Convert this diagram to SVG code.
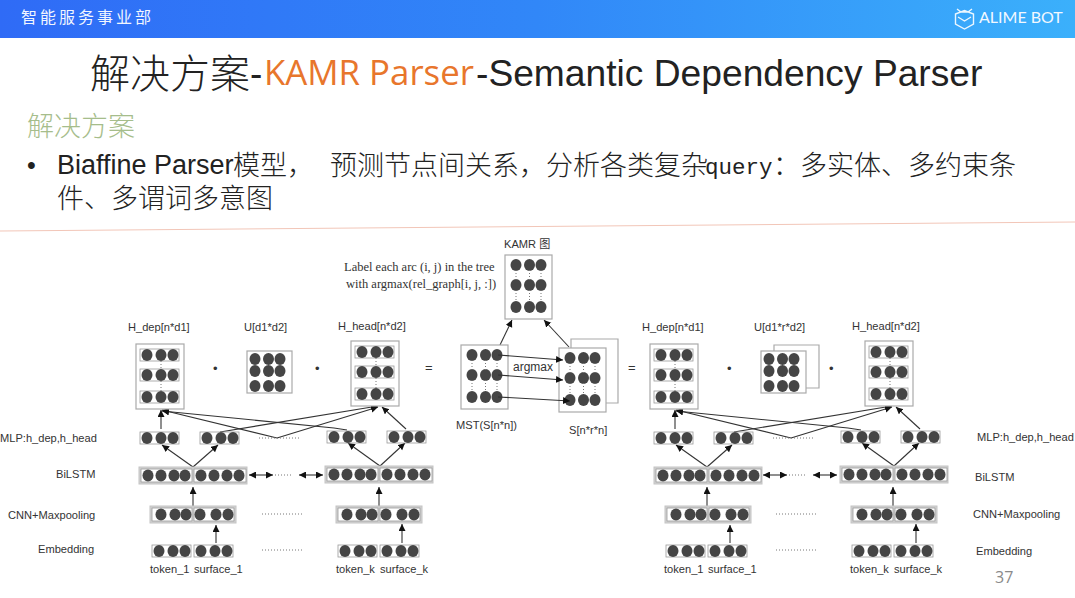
<svg xmlns="http://www.w3.org/2000/svg" xmlns:xlink="http://www.w3.org/1999/xlink" width="1075" height="598" viewBox="0 0 1075 598">
<style>
text{font-family:"Liberation Sans",Arial,sans-serif}
.cjk{font-family:"Noto Sans CJK SC",sans-serif}
.lb{font-size:11.100px;fill:#333}
.box{fill:#fff;stroke:#aaa;stroke-width:1.200}
.ol{fill:none;stroke:#aaa;stroke-width:1.200}
.gray{fill:#d2d2d2;stroke:#c4c4c4;stroke-width:1}
.in{fill:#fff;stroke:#999;stroke-width:.8}
.dot{fill:#454545}
.ar{fill:none;stroke:#333;stroke-width:1.100;marker-end:url(#a)}
.arb{fill:none;stroke:#333;stroke-width:1.100;marker-end:url(#a);marker-start:url(#as)}
.dt{fill:none;stroke:#777;stroke-width:1;stroke-dasharray:1 2}
.sym{fill:#333;font-size:13px}
</style>
<defs>
<linearGradient id="hd" x1="0" x2="1" y1="0" y2="0"><stop offset="0" stop-color="#2f6bf6"/><stop offset=".5" stop-color="#3187f8"/><stop offset="1" stop-color="#3bb0fb"/></linearGradient>
<marker id="a" markerWidth="8" markerHeight="8" refX="7" refY="3.500" orient="auto" markerUnits="userSpaceOnUse"><path d="M0,0L7,3.500L0,7z" fill="#111"/></marker>
<marker id="as" markerWidth="8" markerHeight="8" refX="0" refY="3.500" orient="auto" markerUnits="userSpaceOnUse"><path d="M7,0L0,3.500L7,7z" fill="#111"/></marker>
<ellipse id="d" class="dot" rx="5.500" ry="6"/>
<g id="r3"><rect class="in" width="39" height="12"/><use xlink:href="#d" x="7" y="6"/><use xlink:href="#d" x="21" y="6"/><use xlink:href="#d" x="33" y="6"/></g>
<g id="g3"><use xlink:href="#d" x="0" y="0"/><use xlink:href="#d" x="13.500" y="0"/><use xlink:href="#d" x="25" y="0"/></g>
<g id="stack"><rect class="box" width="48" height="65"/><use xlink:href="#r3" x="4" y="5"/><use xlink:href="#r3" x="4" y="25"/><use xlink:href="#r3" x="4" y="47"/><path class="dt" d="M25,17V25M25,37V47"/></g>
<g id="bi"><rect class="gray" width="108" height="17"/><rect class="in" x="2" y="2" width="51" height="13"/><rect class="in" x="55" y="2" width="52" height="13"/><use xlink:href="#d" x="9" y="8.500"/><use xlink:href="#d" x="22" y="8.500"/><use xlink:href="#d" x="35" y="8.500"/><use xlink:href="#d" x="46" y="8.500"/><use xlink:href="#d" x="62" y="8.500"/><use xlink:href="#d" x="75" y="8.500"/><use xlink:href="#d" x="88" y="8.500"/><use xlink:href="#d" x="100" y="8.500"/></g>
<g id="cn"><rect class="gray" width="86" height="17"/><rect class="in" x="2" y="2" width="40" height="13"/><rect class="in" x="44" y="2" width="40" height="13"/><use xlink:href="#d" x="11" y="8.500"/><use xlink:href="#d" x="25" y="8.500"/><use xlink:href="#d" x="36" y="8.500"/><use xlink:href="#d" x="50" y="8.500"/><use xlink:href="#d" x="66" y="8.500"/><use xlink:href="#d" x="78" y="8.500"/></g>
<g id="em"><use xlink:href="#r3"/><use xlink:href="#r3" x="42"/></g>
<g id="mat"><rect class="box" width="47" height="64"/><use xlink:href="#g3" x="11" y="10"/><use xlink:href="#g3" x="11" y="30"/><use xlink:href="#g3" x="11" y="52"/><path class="dt" d="M11,15V25M24.500,15V25M36,15V25M11,35V47M24.500,35V47M36,35V47"/></g>
<g id="u"><rect class="box" width="45" height="42"/><use xlink:href="#g3" x="8" y="8"/><use xlink:href="#g3" x="8" y="20"/><use xlink:href="#g3" x="8" y="35"/></g>
</defs>
<rect width="1075" height="598" fill="#fff"/>
<g id="header"><rect width="1075" height="38" fill="url(#hd)"/>
<text class="cjk" x="21" y="23" font-size="16" letter-spacing="3" fill="#f2f6ff">智能服务事业部</text>
<path d="M957,9L961,12H968L972,9M955.500,14L964.500,10.500L973.500,14V24L964.500,29L955.500,24ZM958,17L964.500,21L971,17" fill="none" stroke="#fff" stroke-width="1.400" opacity=".9"/>
<text x="979" y="23" font-size="16" fill="#f2f8ff" style="font-family:Lato,sans-serif">ALIME BOT</text></g>
<g id="title"><text x="90" y="88" font-size="40" font-weight="300" fill="#222" class="cjk">解决方案</text><text x="250" y="86" font-size="37" fill="#222">-</text><text x="264" y="85" font-size="34.800" fill="#e8762c" style="font-family:'Open Sans',sans-serif">KAMR Parser</text><text x="476" y="86" font-size="37.200" fill="#222">-Semantic Dependency Parser</text></g>
<g id="body"><text class="cjk" x="27" y="136" font-size="27" font-weight="300" fill="#a6bd8b">解决方案</text>
<text x="27" y="174" font-size="25" fill="#222">•</text>
<text x="57" y="174" font-size="27" fill="#222">Biaffine Parser</text>
<text class="cjk" x="233" y="175" font-size="27" fill="#222" font-weight="300">模型，</text>
<text class="cjk" x="330" y="175" font-size="27" fill="#222" font-weight="300">预测节点间关系，分析各类复杂</text>
<text x="705" y="174" font-size="22.500" fill="#222" style="font-family:'Liberation Mono',monospace">query</text>
<text class="cjk" x="773" y="175" font-size="27" fill="#222" font-weight="300">：多实体、多约束条</text>
<text class="cjk" x="57" y="208" font-size="27" fill="#222" font-weight="300">件、多谓词多意图</text></g>
<path id="divider" d="M0,231L1075,222" stroke="#f2c6b8" stroke-width="1" fill="none"/>

<g id="connectors">
<path class="ar" d="M161,429V410"/><path class="ar" d="M220,432L378,406"/><path class="ar" d="M277,438L378,407"/><path class="ar" d="M277,438L162,410"/><path class="ar" d="M347,430L334,428L162,411"/><path class="ar" d="M406,429L382,407"/>
<path class="ar" d="M193,467L162,445"/><path class="ar" d="M193,467L218,445"/><path class="ar" d="M380,466L348,443"/><path class="ar" d="M380,466L405,443"/>
<path class="arb" d="M249,475H273"/><path class="arb" d="M299,475H323"/>
<path class="ar" d="M193,506V487"/><path class="ar" d="M379,506V487"/><path class="ar" d="M216,543V525"/><path class="ar" d="M402,543V524"/>
<path class="ar" d="M675,429V410"/><path class="ar" d="M734,432L892,406"/><path class="ar" d="M791,438L892,407"/><path class="ar" d="M791,438L676,410"/><path class="ar" d="M861,430L848,428L676,411"/><path class="ar" d="M920,429L896,407"/>
<path class="ar" d="M707,467L676,445"/><path class="ar" d="M707,467L732,445"/><path class="ar" d="M894,466L862,443"/><path class="ar" d="M894,466L919,443"/>
<path class="arb" d="M763,475H787"/><path class="arb" d="M813,475H837"/>
<path class="ar" d="M707,506V487"/><path class="ar" d="M893,506V487"/><path class="ar" d="M730,543V525"/><path class="ar" d="M916,543V524"/>
<path class="ar" d="M500,345L512,320"/><path class="ar" d="M569,347L544,320"/>
<path class="dt" d="M259,438H299M262,514H303M262,550H302M275,475H292M773,438H813M776,514H817M776,550H816M789,475H806"/>
</g>

<g id="left-net">
<g id="h-dep-1"><use xlink:href="#stack" x="136" y="344"/><text class="lb" x="128" y="331">H_dep[n*d1]</text></g>
<g id="u-1"><use xlink:href="#u" x="247" y="351"/><text class="lb" x="244" y="331">U[d1*d2]</text></g>
<g id="h-head-1"><use xlink:href="#stack" x="351" y="341"/><text class="lb" x="338" y="330">H_head[n*d2]</text></g>
<text class="sym" x="213" y="373">•</text><text class="sym" x="315" y="373">•</text><text class="sym" x="425" y="372">=</text>
<g id="mlp-1a"><use xlink:href="#r3" x="140" y="432"/></g><g id="mlp-1b"><use xlink:href="#r3" x="200" y="432"/></g><g id="mlp-1c"><use xlink:href="#r3" x="327" y="431"/></g><g id="mlp-1d"><use xlink:href="#r3" x="387" y="431"/></g>
<g id="bi-1a"><use xlink:href="#bi" x="139" y="467"/></g><g id="bi-1b"><use xlink:href="#bi" x="325" y="466"/></g>
<g id="cnn-1a"><use xlink:href="#cn" x="150" y="506"/></g><g id="cnn-1b"><use xlink:href="#cn" x="336" y="506"/></g>
<g id="emb-1a"><use xlink:href="#em" x="152" y="545"/></g><g id="emb-1b"><use xlink:href="#em" x="338" y="545"/></g>
<text class="lb" x="0" y="442">MLP:h_dep,h_head</text><text class="lb" x="56" y="478">BiLSTM</text><text class="lb" x="8" y="519">CNN+Maxpooling</text><text class="lb" x="38" y="553">Embedding</text>
<text class="lb" x="150" y="573">token_1</text><text class="lb" x="194" y="573">surface_1</text><text class="lb" x="336" y="573">token_k</text><text class="lb" x="380" y="573">surface_k</text>
</g>

<g id="center">
<g id="kamr"><use xlink:href="#mat" x="505" y="255"/><text class="lb" x="504" y="248">KAMR <tspan class="cjk">图</tspan></text></g>
<text x="344" y="271" font-size="12.500" fill="#333" style="font-family:'Liberation Serif',serif">Label each arc (i, j) in the tree</text>
<text x="346" y="288" font-size="12.500" fill="#333" style="font-family:'Liberation Serif',serif">with argmax(rel_graph[i, j, :])</text>
<g id="mst"><use xlink:href="#mat" x="461" y="345"/><text class="lb" x="456" y="429">MST(S[n*n])</text></g>
<g id="s"><use xlink:href="#mat" x="559" y="348"/><path class="ol" d="M571,348V339H618V403H606"/><text class="lb" x="569" y="434">S[n*r*n]</text></g>
<path class="ar" d="M498,355L563,360"/><path class="ar" d="M498,375L563,380"/><path class="ar" d="M498,397L570,401"/>
<text x="513" y="371" font-size="12" fill="#333">argmax</text>
</g>

<g id="right-net">
<text class="sym" x="628" y="372">=</text>
<g id="h-dep-2"><use xlink:href="#stack" x="650" y="344"/><text class="lb" x="642" y="331">H_dep[n*d1]</text></g>
<g id="u-2"><use xlink:href="#u" x="761" y="351"/><path class="ol" d="M774,351V345H819V388H806"/><text class="lb" x="754" y="331">U[d1*r*d2]</text></g>
<g id="h-head-2"><use xlink:href="#stack" x="865" y="341"/><text class="lb" x="852" y="330">H_head[n*d2]</text></g>
<text class="sym" x="727" y="373">•</text><text class="sym" x="829" y="373">•</text>
<g id="mlp-2a"><use xlink:href="#r3" x="654" y="432"/></g><g id="mlp-2b"><use xlink:href="#r3" x="714" y="432"/></g><g id="mlp-2c"><use xlink:href="#r3" x="841" y="431"/></g><g id="mlp-2d"><use xlink:href="#r3" x="901" y="431"/></g>
<g id="bi-2a"><use xlink:href="#bi" x="654" y="467"/></g><g id="bi-2b"><use xlink:href="#bi" x="840" y="466"/></g>
<g id="cnn-2a"><use xlink:href="#cn" x="665" y="506"/></g><g id="cnn-2b"><use xlink:href="#cn" x="851" y="506"/></g>
<g id="emb-2a"><use xlink:href="#em" x="666" y="545"/></g><g id="emb-2b"><use xlink:href="#em" x="852" y="545"/></g>
<text class="lb" x="977" y="441">MLP:h_dep,h_head</text><text class="lb" x="975" y="481">BiLSTM</text><text class="lb" x="973" y="518">CNN+Maxpooling</text><text class="lb" x="976" y="555">Embedding</text>
<text class="lb" x="664" y="573">token_1</text><text class="lb" x="708" y="573">surface_1</text><text class="lb" x="850" y="573">token_k</text><text class="lb" x="894" y="573">surface_k</text>
</g>
<text x="995" y="583" font-size="16" fill="#8a8a8a" style="font-family:'Open Sans',sans-serif">37</text>
</svg>
